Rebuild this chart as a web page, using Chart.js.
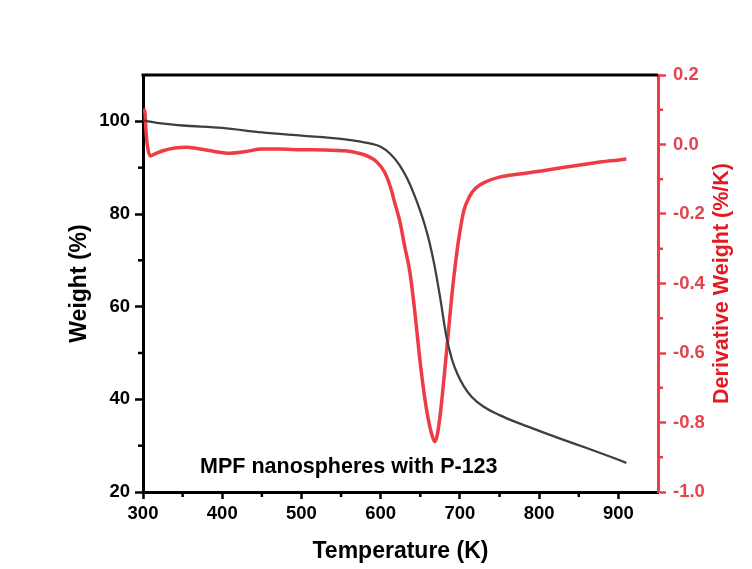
<!DOCTYPE html>
<html><head><meta charset="utf-8">
<script src="https://cdn.jsdelivr.net/npm/chart.js@4/dist/chart.umd.min.js"></script>
<style>html,body{margin:0;padding:0;background:#fff;}canvas{display:block;}</style>
</head><body>
<canvas id="c" width="752" height="569"></canvas>
<script>
// ---- data ----
const weightTemps  = [300,320,350,400,450,500,550,575,590,600,612,624,633,642,650,656,662,668,675,683,690,697,705,715,730,750,775,800,830,860,890,910];
const weightValues = [100.2,99.6,99.1,98.6,97.6,96.9,96.2,95.6,95.1,94.5,93.0,90.5,87.8,84.3,80.6,77.4,73.6,68.8,62.0,53.5,48.6,45.4,42.8,40.5,38.4,36.6,34.8,33.2,31.3,29.5,27.6,26.3];
const derivTemps  = [301,302,304,306,309,315,325,340,355,370,390,410,430,450,470,500,530,555,570,585,595,605,612,618,624,630,637,643,649,655,660,664,668,671,675,680,685,690,695,700,705,712,720,735,750,775,800,830,860,890,910];
const derivValues = [0.09,0.10,0.03,-0.01,-0.033,-0.027,-0.018,-0.01,-0.008,-0.012,-0.02,-0.025,-0.02,-0.013,-0.013,-0.015,-0.016,-0.018,-0.024,-0.035,-0.05,-0.08,-0.12,-0.17,-0.22,-0.29,-0.37,-0.48,-0.61,-0.72,-0.79,-0.83,-0.855,-0.84,-0.78,-0.67,-0.55,-0.43,-0.33,-0.25,-0.19,-0.15,-0.125,-0.105,-0.094,-0.085,-0.077,-0.066,-0.056,-0.047,-0.042];
const xTicks      = [300,400,500,600,700,800,900];
const xMinorTicks = [350,450,550,650,750,850];
const yTicks      = [20,40,60,80,100];
const yMinorTicks = [30,50,70,90];
const y2Ticks     = [-1.0,-0.8,-0.6,-0.4,-0.2,0.0,0.2];
const y2MinorTicks= [-0.9,-0.7,-0.5,-0.3,-0.1,0.1];
const xTitle = 'Temperature (K)';
const yTitle = 'Weight (%)';
const y2Title = 'Derivative Weight (%/K)';
const note = 'MPF nanospheres with P-123';

const FONT = '"Liberation Sans", Arial, sans-serif';
const RED = '#ef3b45';
const GRAY = '#3f3f3f';

const extras = {
  id: 'extras',
  afterDraw(chart) {
    const ctx = chart.ctx, a = chart.chartArea;
    const sx = chart.scales.x, sy = chart.scales.y, sy2 = chart.scales.y2;
    ctx.save();
    ctx.strokeStyle = '#000'; ctx.lineWidth = 3;
    ctx.beginPath(); ctx.moveTo(a.left - 1.5, a.top); ctx.lineTo(a.right, a.top); ctx.stroke();
    ctx.lineWidth = 2.5;
    xMinorTicks.forEach(v => { const p = sx.getPixelForValue(v); ctx.beginPath(); ctx.moveTo(p, a.bottom); ctx.lineTo(p, a.bottom + 5); ctx.stroke(); });
    yMinorTicks.forEach(v => { const p = sy.getPixelForValue(v); ctx.beginPath(); ctx.moveTo(a.left, p); ctx.lineTo(a.left - 5, p); ctx.stroke(); });
    ctx.strokeStyle = RED;
    y2MinorTicks.forEach(v => { const p = sy2.getPixelForValue(v); ctx.beginPath(); ctx.moveTo(a.right, p); ctx.lineTo(a.right + 5, p); ctx.stroke(); });
    ctx.fillStyle = '#000';
    ctx.font = 'bold 21.5px ' + FONT;
    ctx.textAlign = 'left'; ctx.textBaseline = 'alphabetic';
    ctx.fillText(note, sx.getPixelForValue(372), sy.getPixelForValue(24.1));
    ctx.translate(722, (a.top + a.bottom) / 2);
    ctx.rotate(-Math.PI / 2);
    ctx.fillStyle = '#e31a22';
    ctx.font = 'bold 21.5px ' + FONT;
    ctx.textAlign = 'center'; ctx.textBaseline = 'middle';
    ctx.fillText(y2Title, 0, 0);
    ctx.restore();
  }
};

new Chart(document.getElementById('c'), {
  type: 'line',
  data: {
    datasets: [
      { label: 'Derivative', data: derivTemps.map((t, i) => ({ x: t, y: derivValues[i] })),
        yAxisID: 'y2', borderColor: RED, borderWidth: 3.5, pointRadius: 0, cubicInterpolationMode: 'monotone', order: 2 },
      { label: 'Weight', data: weightTemps.map((t, i) => ({ x: t, y: weightValues[i] })),
        yAxisID: 'y', borderColor: GRAY, borderWidth: 2.3, pointRadius: 0, cubicInterpolationMode: 'monotone', order: 1 }
    ]
  },
  options: {
    responsive: false, animation: false, devicePixelRatio: 1,
    layout: { padding: { left: 0, right: 0, top: 75, bottom: 0 } },
    plugins: { legend: { display: false }, tooltip: { enabled: false } },
    scales: {
      x: {
        type: 'linear', position: 'bottom', min: 300, max: 950,
        afterBuildTicks: s => { s.ticks = xTicks.map(v => ({ value: v })); },
        afterFit: s => { s.height = 77; },
        border: { color: '#000', width: 3 },
        grid: { drawOnChartArea: false, tickLength: 7, tickWidth: 2.5, tickColor: '#000' },
        ticks: { color: '#000', font: { family: FONT, size: 18.5, weight: 'bold', lineHeight: 1.2 }, padding: 4, maxRotation: 0 },
        title: { display: true, text: xTitle, color: '#000', font: { family: FONT, size: 23, weight: 'bold', lineHeight: 1.2 }, padding: { top: 0, bottom: 4 } }
      },
      y: {
        type: 'linear', position: 'left', min: 20, max: 110,
        afterBuildTicks: s => { s.ticks = yTicks.map(v => ({ value: v })); },
        afterFit: s => { s.width = 143; },
        border: { color: '#000', width: 3 },
        grid: { drawOnChartArea: false, tickLength: 8, tickWidth: 2.5, tickColor: '#000' },
        ticks: { color: '#000', font: { family: FONT, size: 18.5, weight: 'bold' }, padding: 5 },
        title: { display: true, text: yTitle, color: '#000', font: { family: FONT, size: 23, weight: 'bold', lineHeight: 1.2 }, padding: { top: 66, bottom: 0 } }
      },
      y2: {
        type: 'linear', position: 'right', min: -1.0, max: 0.2,
        afterBuildTicks: s => { s.ticks = y2Ticks.map(v => ({ value: v })); },
        afterFit: s => { s.width = 94; },
        border: { color: RED, width: 3 },
        grid: { drawOnChartArea: false, tickLength: 8, tickWidth: 2.5, tickColor: RED },
        ticks: { color: '#e4434d', font: { family: FONT, size: 18.5, weight: 'bold' }, padding: 7,
                 callback: v => Number(v).toFixed(1) }
      }
    }
  },
  plugins: [extras]
});
</script>
</body></html>
